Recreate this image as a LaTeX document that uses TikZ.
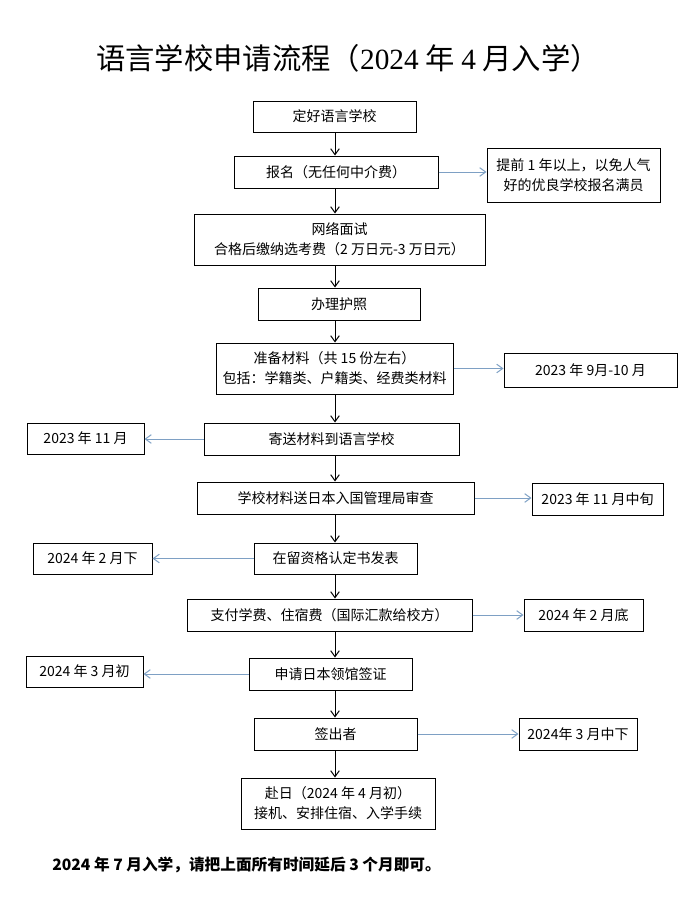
\documentclass[tikz,border=0pt]{standalone}
\usepackage{fontspec}
\setmainfont{Noto Sans CJK SC}
\newfontfamily\titlenum{Liberation Serif}
\usetikzlibrary{arrows.meta}
\definecolor{linkblue}{RGB}{126,160,196}

\begin{document}
\begin{tikzpicture}[
    x=0.75pt, y=-0.75pt,
    >={Straight Barb[length=4.5pt,width=6.5pt]},
    stepbox/.style={draw, line width=0.75pt, inner sep=0pt, align=center,
      font=\fontsize{10.5pt}{15pt}\selectfont},
    datebox/.style={stepbox},
    flow/.style={->, line width=0.75pt},
    datelink/.style={->, line width=0.75pt, linkblue}
  ]

% Frame
\useasboundingbox (0,0) rectangle (693,906);

% Title
\node[font=\fontsize{22pt}{26pt}\selectfont] (title) at (348,58)
  {语言学校申请流程（{\titlenum 2024} 年 {\titlenum 4} 月入学）};

% Main steps
\node[stepbox, minimum width=122.25pt, minimum height=23.25pt] (choose) at (334.5,116.5) {定好语言学校};
\node[stepbox, minimum width=153pt, minimum height=24pt] (apply) at (336,172) {报名（无任何中介费）};
\node[stepbox, minimum width=218.25pt, minimum height=38.25pt] (interview) at (339.5,239.5)
  {网络面试\\合格后缴纳选考费（2 万日元-3 万日元）};
\node[stepbox, minimum width=121.5pt, minimum height=24pt] (passport) at (339,304) {办理护照};
\node[stepbox, minimum width=177.75pt, minimum height=38.25pt] (docs) at (334.5,368.5)
  {准备材料（共 15 份左右）\\包括：学籍类、户籍类、经费类材料};
\node[stepbox, minimum width=191.25pt, minimum height=24pt] (mail) at (331.5,439) {寄送材料到语言学校};
\node[stepbox, minimum width=207.75pt, minimum height=24pt] (review) at (335.5,498) {学校材料送日本入国管理局审查};
\node[stepbox, minimum width=122.25pt, minimum height=23.25pt] (coe) at (335.5,558.5) {在留资格认定书发表};
\node[stepbox, minimum width=213.75pt, minimum height=24pt] (tuition) at (329.5,615) {支付学费、住宿费（国际汇款给校方）};
\node[stepbox, minimum width=122.25pt, minimum height=24pt] (visa) at (330.5,674) {申请日本领馆签证};
\node[stepbox, minimum width=122.25pt, minimum height=24pt] (issued) at (335.5,734) {签出者};
\node[stepbox, minimum width=145.5pt, minimum height=38.25pt] (depart) at (338,803.5)
  {赴日（2024 年 4 月初）\\接机、安排住宿、入学手续};

% Dates and tips
\node[datebox, minimum width=129.75pt, minimum height=40.5pt] (tipearly) at (573.5,175)
  {提前 1 年以上，以免人气\\好的优良学校报名满员};
\node[datebox, minimum width=129.75pt, minimum height=25.5pt] (dsep) at (590.5,370) {2023 年 9月-10 月};
\node[datebox, minimum width=87.75pt, minimum height=23.25pt] (dnov) at (85.5,438.5) {2023 年 11 月};
\node[datebox, minimum width=98.25pt, minimum height=24pt] (dnovmid) at (597.5,499) {2023 年 11 月中旬};
\node[datebox, minimum width=89.25pt, minimum height=23.25pt] (dfeblate) at (92.5,558.5) {2024 年 2 月下};
\node[datebox, minimum width=89.25pt, minimum height=24pt] (dfebend) at (583.5,615) {2024 年 2 月底};
\node[datebox, minimum width=87.75pt, minimum height=23.25pt] (dmarearly) at (84.5,671.5) {2024 年 3 月初};
\node[datebox, minimum width=88.5pt, minimum height=24pt] (dmarmid) at (578,734) {2024年 3 月中下};

% Main flow
\coordinate (spine) at (335,0);
\draw[flow] (spine |- choose.south) -- (spine |- apply.north);
\draw[flow] (spine |- apply.south) -- (spine |- interview.north);
\draw[flow] (spine |- interview.south) -- (spine |- passport.north);
\draw[flow] (spine |- passport.south) -- (spine |- docs.north);
\draw[flow] (spine |- docs.south) -- (spine |- mail.north);
\draw[flow] (spine |- mail.south) -- (spine |- review.north);
\draw[flow] (spine |- review.south) -- (spine |- coe.north);
\draw[flow] (spine |- coe.south) -- (spine |- tuition.north);
\draw[flow] (spine |- tuition.south) -- (spine |- visa.north);
\draw[flow] (spine |- visa.south) -- (spine |- issued.north);
\draw[flow] (spine |- issued.south) -- (spine |- depart.north);

% Side links
\draw[datelink] (apply.east) -- (tipearly.west |- apply.east);
\draw[datelink] (docs.east) -- (dsep.west |- docs.east);
\draw[datelink] (mail.west) -- (dnov.east |- mail.west);
\draw[datelink] (review.east) -- (dnovmid.west |- review.east);
\draw[datelink] (coe.west) -- (dfeblate.east |- coe.west);
\draw[datelink] (tuition.east) -- (dfebend.west |- tuition.east);
\draw[datelink] (visa.west) -- (dmarearly.east |- visa.west);
\draw[datelink] (issued.east) -- (dmarmid.west |- issued.east);

% Remark
\node[anchor=west, inner sep=0pt, font=\bfseries\fontsize{11.75pt}{14pt}\selectfont] (remark) at (52,865)
  {2024 年 7 月入学，请把上面所有时间延后 3 个月即可。};

\end{tikzpicture}
\end{document}
